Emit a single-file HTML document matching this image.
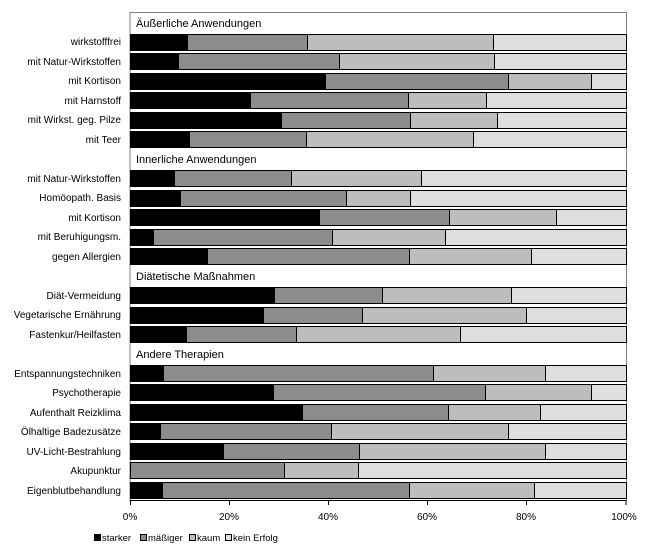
<!DOCTYPE html>
<html><head><meta charset="utf-8"><style>
html,body{margin:0;padding:0;background:#fff;width:655px;height:557px;overflow:hidden}
svg{display:block;font-family:"Liberation Sans",sans-serif}
.l{font-size:10px;text-anchor:end}
.h{font-size:11px}
.t{font-size:10px;text-anchor:middle}
</style></head><body>
<svg id="s" width="655" height="557" xmlns="http://www.w3.org/2000/svg">
<rect x="130" y="12.5" width="496.5" height="488" fill="#fff" stroke="#808080" stroke-width="1"/>
<g id="bars"></g>
<text class="h" x="136" y="27">Äußerliche Anwendungen</text>
<text class="h" x="136" y="163">Innerliche Anwendungen</text>
<text class="h" x="136" y="280">Diätetische Maßnahmen</text>
<text class="h" x="136" y="358">Andere Therapien</text>
<g class="l">
<text x="121" y="45">wirkstofffrei</text>
<text x="121" y="65">mit Natur-Wirkstoffen</text>
<text x="121" y="84">mit Kortison</text>
<text x="121" y="104">mit Harnstoff</text>
<text x="121" y="123">mit Wirkst. geg. Pilze</text>
<text x="121" y="143">mit Teer</text>
<text x="121" y="182">mit Natur-Wirkstoffen</text>
<text x="121" y="201">Homöopath. Basis</text>
<text x="121" y="221">mit Kortison</text>
<text x="121" y="240">mit Beruhigungsm.</text>
<text x="121" y="260">gegen Allergien</text>
<text x="121" y="299">Diät-Vermeidung</text>
<text x="121" y="318">Vegetarische Ernährung</text>
<text x="121" y="338">Fastenkur/Heilfasten</text>
<text x="121" y="377">Entspannungstechniken</text>
<text x="121" y="396">Psychotherapie</text>
<text x="121" y="416">Aufenthalt Reizklima</text>
<text x="121" y="435">Ölhaltige Badezusätze</text>
<text x="121" y="455">UV-Licht-Bestrahlung</text>
<text x="121" y="474">Akupunktur</text>
<text x="121" y="494">Eigenblutbehandlung</text>
</g>
<line x1="130" y1="500.5" x2="626.5" y2="500.5" stroke="#000"/>
<g stroke="#000">
<line x1="130.5" y1="500" x2="130.5" y2="505"/>
<line x1="229.5" y1="500" x2="229.5" y2="505"/>
<line x1="328.5" y1="500" x2="328.5" y2="505"/>
<line x1="427.5" y1="500" x2="427.5" y2="505"/>
<line x1="526.5" y1="500" x2="526.5" y2="505"/>
<line x1="626" y1="500" x2="626" y2="505"/>
</g>
<g class="t">
<text x="130" y="520">0%</text>
<text x="229" y="520">20%</text>
<text x="328" y="520">40%</text>
<text x="427" y="520">60%</text>
<text x="526" y="520">80%</text>
<text x="624" y="520">100%</text>
</g>
<g font-size="9.5">
<rect x="94.5" y="534.5" width="6" height="6" fill="#000" stroke="#000"/>
<text x="102" y="541">starker</text>
<rect x="140.5" y="534.5" width="6" height="6" fill="#8c8c8c" stroke="#000"/>
<text x="148" y="541">mäßiger</text>
<rect x="189.5" y="534.5" width="6" height="6" fill="#bdbdbd" stroke="#000"/>
<text x="197" y="541">kaum</text>
<rect x="225.5" y="534.5" width="6" height="6" fill="#dedede" stroke="#000"/>
<text x="233" y="541">kein Erfolg</text>
</g>
</svg>
<script>
var rows=[null,[11.5,35.7,73.2],[9.6,42.1,73.4],[39.3,76.2,92.9],[24.2,56,71.8],[30.4,56.5,74],[11.9,35.5,69.2],
null,[8.9,32.5,58.7],[10,43.5,56.5],[38.1,64.3,85.9],[4.6,40.7,63.5],[15.5,56.3,80.8],
null,[29,50.8,76.8],[26.8,46.8,79.8],[11.3,33.5,66.5],
null,[6.7,61.1,83.7],[28.8,71.6,93],[34.7,64.1,82.7],[6,40.5,76.2],[18.8,46.2,83.7],[0,31.1,46],[6.5,56.3,81.5]];
var cols=["#000","#8c8c8c","#bdbdbd","#dedede"],g=document.getElementById("bars"),ns="http://www.w3.org/2000/svg";
var X0=130,W=496,Y0=12.8,P=19.48;
rows.forEach(function(r,i){
 var y=Y0+P*i,top=Math.round(y+1.5)+0.5,h=Math.round(P-3.5);
 if(!r){return;}
 var b=[0].concat(r).concat([100]);
 for(var k=0;k<4;k++){
  if(b[k+1]<=b[k])continue;
  var x1=X0+W*b[k]/100,x2=X0+W*b[k+1]/100;
  var e=document.createElementNS(ns,"rect");
  e.setAttribute("x",Math.round(x1)+0.5);e.setAttribute("y",top);
  e.setAttribute("width",Math.round(x2)-Math.round(x1));e.setAttribute("height",h);
  e.setAttribute("fill",cols[k]);e.setAttribute("stroke","#000");e.setAttribute("stroke-width","1");
  g.appendChild(e);
 }
});
</script>
</body></html>
